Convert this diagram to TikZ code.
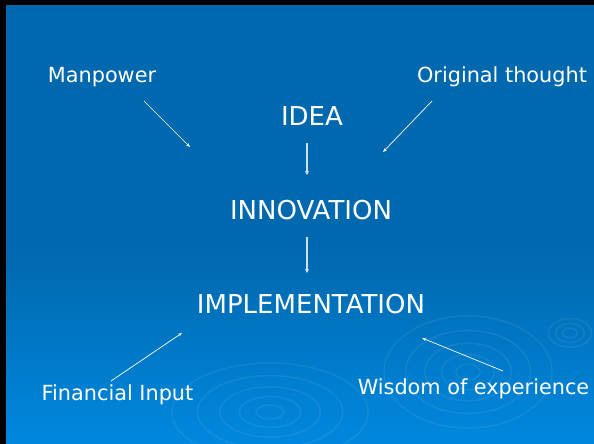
\documentclass[tikz,border=0pt]{standalone}
\usepackage{fontspec}
\setmainfont{DejaVu Sans}
\usetikzlibrary{arrows.meta}
\definecolor{bgtop}{HTML}{0068AE}
\definecolor{bgbot}{HTML}{0088DE}
\begin{document}
\begin{tikzpicture}[x=1pt,y=-1pt,
  small/.style={text=white,font=\fontsize{20.8}{24}\selectfont,inner sep=0pt,anchor=base},
  big/.style={text=white,font=\fontsize{26}{30}\selectfont,inner sep=0pt,anchor=base},
  link/.style={draw=white,line width=0.7pt,-{Stealth[length=4pt,width=3pt]}},
  vlink/.style={draw=white!80!bgtop,line width=1.1pt,-{Stealth[length=4pt,width=4pt]}},
  ripple/.style={draw=white,opacity=0.07,line width=1.5pt}]
\useasboundingbox (0,0) rectangle (594,444);
\fill[bgtop] (0,0) rectangle (594,250);
\shade[top color=bgtop,bottom color=bgbot] (0,249.5) rectangle (594,444);
% ripples
\foreach \r in {10,22,36,52,70} {\draw[ripple] (270,412) ellipse ({\r*1.4} and {\r*0.7});}
\foreach \r in {10,22,36,52,70} {\draw[ripple] (468,372) ellipse ({\r*1.2} and {\r*0.8});}
\foreach \r in {6,12,18} {\draw[ripple] (570,333) ellipse ({\r*1.2} and {\r*0.8});}
% frame
\fill[black] (0,0) rectangle (594,5);
\fill[black] (0,0) rectangle (6,444);
% texts
\node[small] (man) at (102,82) {Manpower};
\node[small] (orig) at (502,82) {Original thought};
\node[big] (idea) at (312,125) {IDEA};
\node[big] (inno) at (311,219) {INNOVATION};
\node[big] (impl) at (311,313) {IMPLEMENTATION};
\node[small] (fin) at (117.5,400) {Financial Input};
\node[small] (wis) at (473.5,394) {Wisdom of experience};
% anchor points
\coordinate (a1s) at (144,101); \coordinate (a1e) at (190,147);
\coordinate (a2s) at (432,101); \coordinate (a2e) at (383,152);
\coordinate (a3s) at (307,143); \coordinate (a3e) at (307,175);
\coordinate (a4s) at (307,237); \coordinate (a4e) at (307,273);
\coordinate (a5s) at (111,381); \coordinate (a5e) at (182,333);
\coordinate (a6s) at (503,371); \coordinate (a6e) at (422,338);
\draw[link] (a1s) -- (a1e);
\draw[link] (a2s) -- (a2e);
\draw[vlink] (a3s) -- (a3e);
\draw[vlink] (a4s) -- (a4e);
\draw[link] (a5s) -- (a5e);
\draw[link] (a6s) -- (a6e);
\end{tikzpicture}
\end{document}
